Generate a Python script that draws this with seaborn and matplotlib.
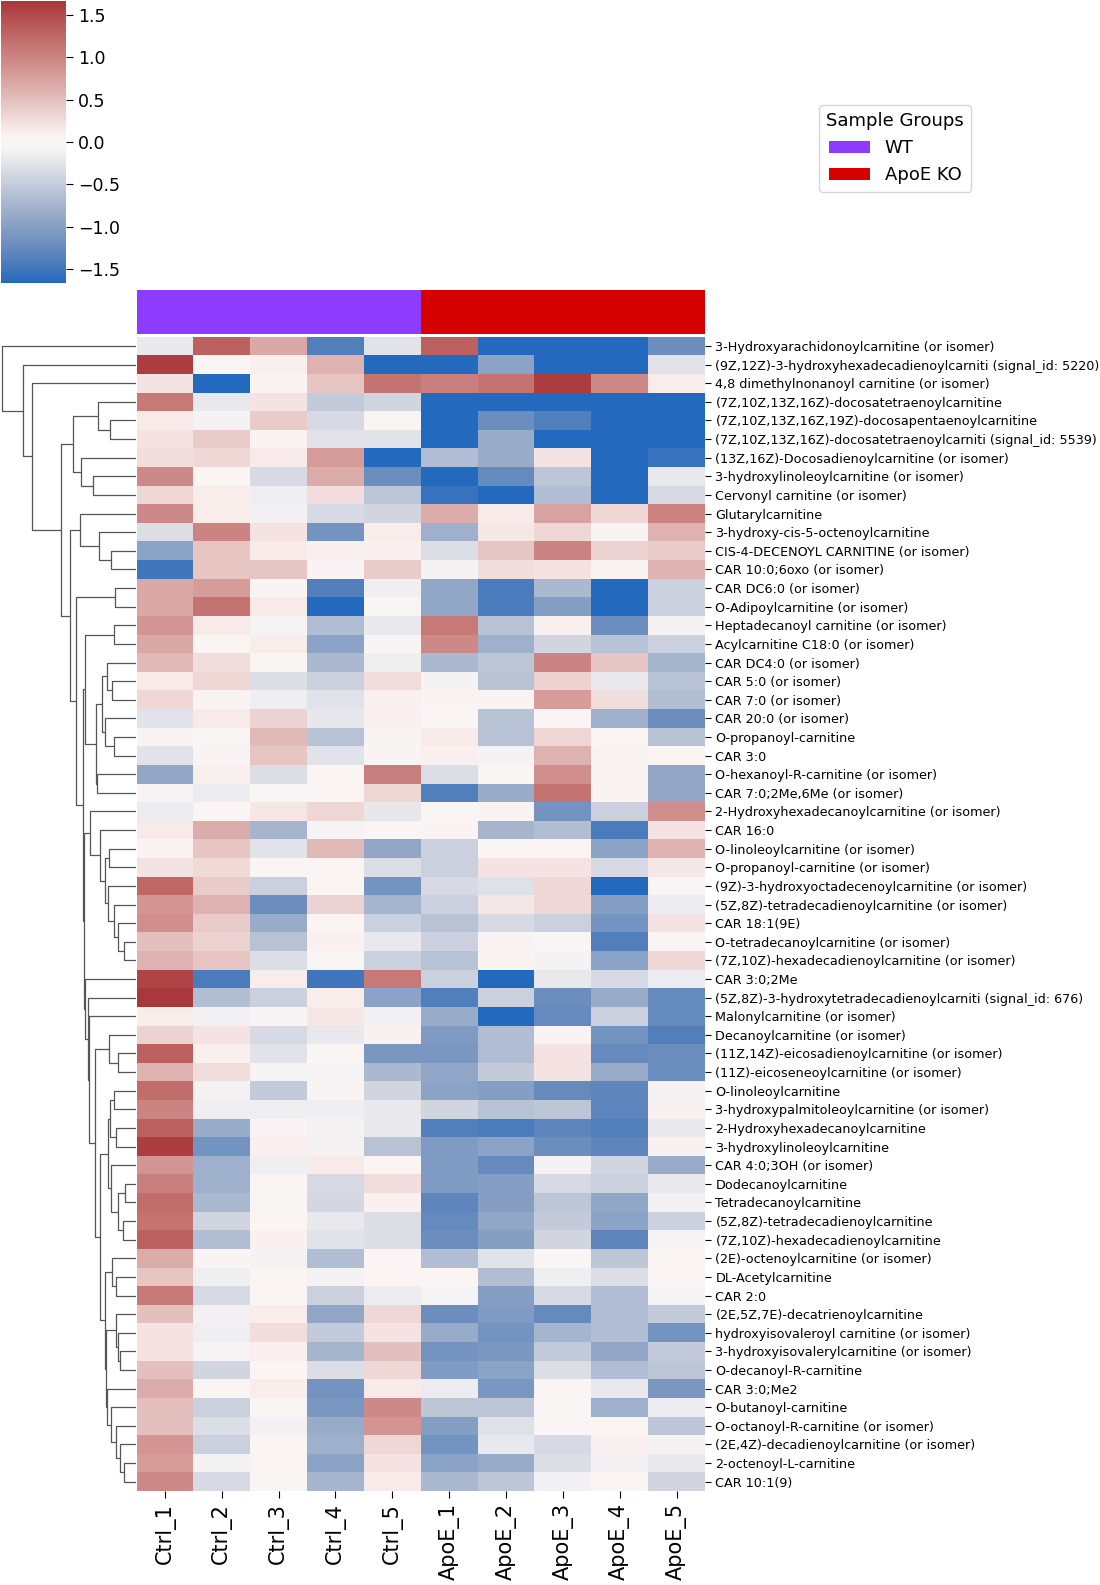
import numpy as np
import pandas as pd
import matplotlib
matplotlib.use("Agg")
import matplotlib.pyplot as plt
import seaborn as sns
from matplotlib.patches import Patch

metabolites = [
    "3-Hydroxyarachidonoylcarnitine (or isomer)",
    "(9Z,12Z)-3-hydroxyhexadecadienoylcarniti (signal_id: 5220)",
    "4,8 dimethylnonanoyl carnitine (or isomer)",
    "(7Z,10Z,13Z,16Z)-docosatetraenoylcarnitine",
    "(7Z,10Z,13Z,16Z,19Z)-docosapentaenoylcarnitine",
    "(7Z,10Z,13Z,16Z)-docosatetraenoylcarniti (signal_id: 5539)",
    "(13Z,16Z)-Docosadienoylcarnitine (or isomer)",
    "3-hydroxylinoleoylcarnitine (or isomer)",
    "Cervonyl carnitine (or isomer)",
    "Glutarylcarnitine",
    "3-hydroxy-cis-5-octenoylcarnitine",
    "CIS-4-DECENOYL CARNITINE (or isomer)",
    "CAR 10:0;6oxo (or isomer)",
    "CAR DC6:0 (or isomer)",
    "O-Adipoylcarnitine (or isomer)",
    "Heptadecanoyl carnitine (or isomer)",
    "Acylcarnitine C18:0 (or isomer)",
    "CAR DC4:0 (or isomer)",
    "CAR 5:0 (or isomer)",
    "CAR 7:0 (or isomer)",
    "CAR 20:0 (or isomer)",
    "O-propanoyl-carnitine",
    "CAR 3:0",
    "O-hexanoyl-R-carnitine (or isomer)",
    "CAR 7:0;2Me,6Me (or isomer)",
    "2-Hydroxyhexadecanoylcarnitine (or isomer)",
    "CAR 16:0",
    "O-linoleoylcarnitine (or isomer)",
    "O-propanoyl-carnitine (or isomer)",
    "(9Z)-3-hydroxyoctadecenoylcarnitine (or isomer)",
    "(5Z,8Z)-tetradecadienoylcarnitine (or isomer)",
    "CAR 18:1(9E)",
    "O-tetradecanoylcarnitine (or isomer)",
    "(7Z,10Z)-hexadecadienoylcarnitine (or isomer)",
    "CAR 3:0;2Me",
    "(5Z,8Z)-3-hydroxytetradecadienoylcarniti (signal_id: 676)",
    "Malonylcarnitine (or isomer)",
    "Decanoylcarnitine (or isomer)",
    "(11Z,14Z)-eicosadienoylcarnitine (or isomer)",
    "(11Z)-eicoseneoylcarnitine (or isomer)",
    "O-linoleoylcarnitine",
    "3-hydroxypalmitoleoylcarnitine (or isomer)",
    "2-Hydroxyhexadecanoylcarnitine",
    "3-hydroxylinoleoylcarnitine",
    "CAR 4:0;3OH (or isomer)",
    "Dodecanoylcarnitine",
    "Tetradecanoylcarnitine",
    "(5Z,8Z)-tetradecadienoylcarnitine",
    "(7Z,10Z)-hexadecadienoylcarnitine",
    "(2E)-octenoylcarnitine (or isomer)",
    "DL-Acetylcarnitine",
    "CAR 2:0",
    "(2E,5Z,7E)-decatrienoylcarnitine",
    "hydroxyisovaleroyl carnitine (or isomer)",
    "3-hydroxyisovalerylcarnitine (or isomer)",
    "O-decanoyl-R-carnitine",
    "CAR 3:0;Me2",
    "O-butanoyl-carnitine",
    "O-octanoyl-R-carnitine (or isomer)",
    "(2E,4Z)-decadienoylcarnitine (or isomer)",
    "2-octenoyl-L-carnitine",
    "CAR 10:1(9)",
]

samples = ["Ctrl_1", "Ctrl_2", "Ctrl_3", "Ctrl_4", "Ctrl_5",
           "ApoE_1", "ApoE_2", "ApoE_3", "ApoE_4", "ApoE_5"]
sample_groups = ["WT"] * 5 + ["ApoE KO"] * 5
group_colors = {"WT": "#8c3bff", "ApoE KO": "#d60000"}

# row z-scores per sample (top-to-bottom order of the heatmap)
ctrl_1 = [-0.2, 1.6, 0.2, 1.1, 0.15, 0.2, 0.25, 0.95, 0.3, 0.95,
          -0.3, -0.95, -1.5, 0.7, 0.7, 0.85, 0.7, 0.55, 0.15, 0.3,
          -0.25, 0.04, -0.25, -0.9, 0.05, -0.18, 0.15, 0.06, 0.2, 1.25,
          0.85, 0.9, 0.5, 0.6, 1.55, 1.66, 0.12, 0.35, 1.3, 0.6,
          1.2, 1.0, 1.3, 1.6, 0.85, 1.05, 1.2, 1.15, 1.3, 0.65,
          0.45, 1.1, 0.5, 0.2, 0.2, 0.5, 0.65, 0.5, 0.5, 0.85,
          0.8, 0.95]
ctrl_2 = [1.3, 0.02, -1.66, -0.2, -0.1, 0.4, 0.3, 0.03, 0.12, 0.12,
          1.0, 0.45, 0.45, 0.8, 1.15, 0.15, 0.03, 0.25, 0.3, 0.05,
          0.15, -0.02, 0.05, 0.1, -0.18, 0.02, 0.65, 0.45, 0.28, 0.4,
          0.6, 0.4, 0.35, 0.45, -1.45, -0.65, -0.12, 0.2, 0.1, 0.25,
          -0.1, -0.15, -0.85, -1.15, -0.8, -0.8, -0.7, -0.4, -0.65, 0.05,
          -0.15, -0.35, -0.12, -0.15, -0.08, -0.4, 0.03, -0.45, -0.3, -0.45,
          -0.1, -0.35]
ctrl_3 = [0.7, 0.1, 0.05, 0.2, 0.4, 0.05, 0.15, -0.35, -0.15, -0.12,
          0.2, 0.15, 0.45, 0.05, 0.15, -0.08, 0.12, 0.03, -0.3, -0.15,
          0.35, 0.55, 0.45, -0.3, -0.05, 0.18, -0.75, -0.25, 0.03, -0.45,
          -1.2, -0.85, -0.6, -0.3, 0.12, -0.45, 0.05, -0.35, -0.25, -0.08,
          -0.5, -0.15, 0.04, 0.1, -0.15, 0.03, -0.03, 0.03, 0.08, -0.1,
          0.03, 0.03, 0.12, 0.25, 0.1, 0.03, 0.12, 0.03, -0.12, 0.03,
          0.02, -0.03]
ctrl_4 = [-1.4, 0.6, 0.45, -0.5, -0.35, -0.25, 0.8, 0.65, 0.25, -0.35,
          -1.15, 0.1, 0.05, -1.4, -1.66, -0.65, -0.95, -0.7, -0.45, -0.25,
          -0.22, -0.6, -0.25, 0.03, 0.03, 0.3, -0.08, 0.55, 0.01, 0.03,
          0.35, 0.03, 0.08, -0.05, -1.5, 0.12, 0.18, -0.2, 0.03, -0.08,
          0.04, -0.15, -0.1, -0.1, 0.15, -0.35, -0.38, -0.2, -0.25, -0.65,
          -0.1, -0.45, -0.9, -0.5, -0.75, -0.3, -1.15, -1.1, -0.85, -0.8,
          -0.95, -0.75]
ctrl_5 = [-0.25, -1.66, 1.15, -0.4, 0.03, -0.25, -1.66, -1.2, -0.55, -0.4,
          0.12, 0.08, 0.4, -0.15, -0.05, -0.2, 0.05, -0.15, 0.25, 0.1,
          0.1, 0.04, 0.05, 1.05, 0.3, -0.22, 0.02, -0.9, -0.3, -1.15,
          -0.75, -0.45, -0.2, -0.45, 1.1, -0.95, -0.12, 0.08, -1.1, -0.7,
          -0.4, -0.2, -0.2, -0.6, 0.03, 0.25, 0.08, -0.3, -0.3, 0.02,
          0.0, -0.18, 0.3, 0.2, 0.5, 0.3, 0.15, 0.95, 0.85, 0.3,
          0.2, 0.15]
apoe_1 = [1.3, -1.66, 1.05, -1.66, -1.66, -1.66, -0.65, -1.66, -1.55, 0.65,
          -0.8, -0.3, -0.1, -0.9, -0.9, 1.1, 0.95, -0.7, -0.1, 0.06,
          -0.03, 0.15, 0.1, -0.3, -1.4, -0.04, 0.06, -0.45, -0.45, -0.35,
          -0.45, -0.6, -0.45, -0.6, -0.45, -1.4, -0.85, -1.05, -1.1, -0.9,
          -0.95, -0.4, -1.4, -1.05, -1.05, -1.05, -1.3, -1.25, -1.2, -0.65,
          0.03, -0.08, -1.2, -0.85, -1.15, -1.05, -0.18, -0.55, -1.0, -1.15,
          -0.95, -0.7]
apoe_2 = [-1.66, -0.95, 1.15, -1.66, -1.2, -0.85, -0.85, -1.25, -1.66, 0.15,
          0.18, 0.45, 0.25, -1.45, -1.45, -0.6, -0.8, -0.55, -0.6, 0.04,
          -0.6, -0.6, -0.1, 0.03, -0.85, 0.05, -0.75, 0.03, 0.2, -0.28,
          0.18, -0.35, 0.05, 0.06, -1.66, -0.45, -1.66, -0.65, -0.65, -0.5,
          -1.0, -0.6, -1.45, -0.95, -1.25, -1.0, -1.0, -0.9, -1.0, -0.25,
          -0.65, -1.0, -1.05, -1.15, -1.1, -0.95, -1.1, -0.55, -0.28, -0.2,
          -0.85, -0.55]
apoe_3 = [-1.66, -1.66, 1.6, -1.66, -1.4, -1.66, 0.2, -0.55, -0.65, 0.75,
          0.3, 1.0, 0.2, -0.7, -1.0, 0.1, -0.4, 1.0, 0.35, 0.8,
          0.0, 0.3, 0.6, 0.9, 1.15, -1.15, -0.65, 0.03, 0.2, 0.3,
          0.3, -0.45, -0.03, -0.1, -0.2, -1.2, -1.25, 0.04, 0.2, 0.2,
          -1.25, -0.55, -1.3, -1.2, -0.1, -0.35, -0.55, -0.5, -0.4, -0.03,
          -0.15, -0.35, -1.25, -0.75, -0.5, -0.3, 0.02, -0.02, 0.02, -0.35,
          -0.3, -0.12]
apoe_4 = [-1.66, -1.66, 0.95, -1.66, -1.66, -1.66, -1.66, -1.66, -1.66, 0.3,
          0.05, 0.35, 0.05, -1.66, -1.66, -1.2, -0.6, 0.45, -0.2, 0.25,
          -0.8, 0.03, 0.04, 0.04, 0.05, -0.45, -1.45, -0.95, -0.35, -1.66,
          -1.0, -1.15, -1.4, -0.95, -0.35, -0.85, -0.45, -1.15, -1.25, -0.85,
          -1.3, -1.3, -1.4, -1.3, -0.4, -0.45, -0.9, -0.95, -1.3, -0.55,
          -0.3, -0.65, -0.65, -0.65, -0.9, -0.65, -0.2, -0.8, 0.03, 0.08,
          -0.12, 0.03]
apoe_5 = [-1.2, -0.25, 0.12, -1.66, -1.66, -1.66, -1.55, -0.2, -0.35, 1.0,
          0.6, 0.4, 0.6, -0.45, -0.45, -0.1, -0.45, -0.75, -0.6, -0.65,
          -1.2, -0.6, 0.03, -0.9, -0.9, 0.9, 0.2, 0.6, 0.18, 0.02,
          -0.18, 0.2, 0.0, 0.3, -0.18, -1.25, -1.25, -1.4, -1.2, -1.2,
          -0.1, 0.08, -0.2, 0.08, -0.85, -0.2, -0.12, -0.45, -0.08, 0.03,
          0.02, -0.08, -0.5, -1.15, -0.5, -0.55, -1.1, -0.18, -0.55, -0.1,
          -0.2, -0.4]

# Row clustering tree: [left, right, merge distance]; leaves are row indices
row_tree = [0, [1, [2, [
    [[3, [4, 5, 26], 38], [6, [7, 8, 43], 55], 63],
    [[9, [10, [11, 12, 25], 37], 56],
     [[13, 14, 21],
      [
          [[15, 16, 21.7],
           [[[17, [18, 19, 23.7], 28.3], [20, [21, 22, 21.7], 30.7], 33.7],
            [23, 24, 38.3], 40], 50.3],
          [[25, [26, [[27, 28, 26.7],
                      [29, [30, [31, [32, 33, 12], 17.7], 22], 27.3], 30.3], 36], 46],
           [34, [35, [36, [[37, [38, 39, 17.7], 26.7],
                           [[[[40, 41, 21.7], [42, 43, 20], 26],
                             [44, [[45, 46, 10.3], [47, 48, 12.7], 17.3], 25], 28],
                            [[49, [50, 51, 20], 23.3],
                             [[52, [53, [54, 55, 16], 17.7], 20],
                              [56, [57, [58, [59, [60, 61, 12], 15.3], 19.3], 25], 28.7],
                              30], 31], 36], 41], 47], 47.7], 51], 52],
          52.7], 60], 66], 75], 104], 113], 134]


def tree_to_linkage(tree, n):
    rows = []

    def rec(node):
        if isinstance(node, int):
            return node, 1
        a, b, h = node
        ia, ca = rec(a)
        ib, cb = rec(b)
        rows.append([ia, ib, float(h), ca + cb])
        return n + len(rows) - 1, ca + cb

    rec(tree)
    return np.array(rows, dtype=float)


values = {s: v for s, v in zip(samples, [ctrl_1, ctrl_2, ctrl_3, ctrl_4, ctrl_5,
                                          apoe_1, apoe_2, apoe_3, apoe_4, apoe_5])}
df = pd.DataFrame(values, index=metabolites)
row_linkage = tree_to_linkage(row_tree, len(metabolites))
col_colors = [group_colors[g] for g in sample_groups]

W, H = 1100, 1585
g = sns.clustermap(
    df, row_linkage=row_linkage, col_cluster=False,
    cmap="vlag", vmin=-1.66, vmax=1.66,
    col_colors=col_colors, figsize=(W / 100, H / 100),
    xticklabels=True, yticklabels=True,
    tree_kws={"linewidths": 0.9, "colors": "#555555"},
)
fig = g.fig


def px(x0, y0, x1, y1):
    return [x0 / W, 1 - y1 / H, (x1 - x0) / W, (y1 - y0) / H]


g.ax_heatmap.set_position(px(136.5, 336.7, 705, 1491))
g.ax_col_colors.set_position(px(136.5, 290, 705, 333.6))
g.ax_row_dendrogram.set_position(px(-4.6, 336.7, 135.5, 1491))
g.ax_col_dendrogram.set_position(px(136.5, 250, 705, 288))
g.ax_cbar.set_position(px(1, 1, 66, 283))

g.ax_heatmap.tick_params(axis="y", labelsize=9.2, length=4, width=0.8, pad=3.5)
g.ax_heatmap.tick_params(axis="x", labelsize=15, length=5, width=0.8, pad=3.5)
g.ax_heatmap.set_xlabel("")
g.ax_heatmap.set_ylabel("")
for t in g.ax_heatmap.get_xticklabels():
    t.set_rotation(90)
g.ax_cbar.tick_params(labelsize=12.5, length=5, width=0.8)

handles = [Patch(facecolor=group_colors[k], label=k) for k in ["WT", "ApoE KO"]]
fig.legend(handles=handles, title="Sample Groups", loc="upper left",
           bbox_to_anchor=(819 / W, 1 - 105 / H), borderaxespad=0,
           fontsize=13, title_fontsize=13, handlelength=2.3)

fig.savefig("out.png", dpi=100)
